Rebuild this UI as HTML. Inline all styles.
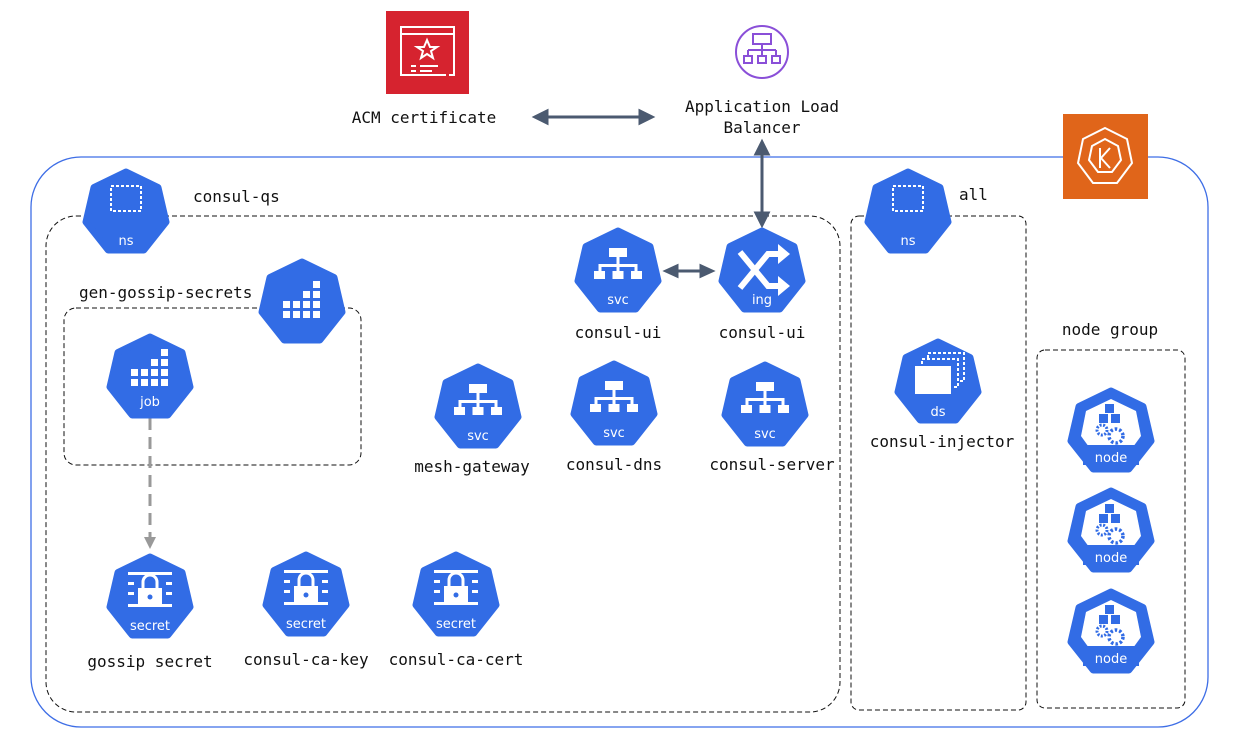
<!DOCTYPE html>
<html><head><meta charset="utf-8"><style>
html,body{margin:0;padding:0;background:#fff;}
svg text{font-family:"DejaVu Sans Mono","Liberation Mono",monospace;font-size:16px;fill:#111;}
.il{font-family:"DejaVu Sans","Liberation Sans",sans-serif;font-size:13px;fill:#fff;text-anchor:middle;}
</style></head><body>
<svg width="1243" height="750" viewBox="0 0 1243 750" xmlns="http://www.w3.org/2000/svg">
<defs>
<symbol id="hep" overflow="visible"><polygon points="0,-41 32,-25.5 40,9 17.8,37 -17.8,37 -40,9 -32,-25.5" fill="#326ce5" stroke="#326ce5" stroke-width="7" stroke-linejoin="round"/></symbol>
<symbol id="svcg" overflow="visible" fill="#fff">
<rect x="-9" y="-24" width="18" height="9"/><rect x="-1.5" y="-15" width="3" height="8"/><rect x="-18" y="-8" width="36" height="3"/>
<rect x="-19.5" y="-8" width="3" height="7"/><rect x="-1.5" y="-8" width="3" height="7"/><rect x="16.5" y="-8" width="3" height="7"/>
<rect x="-24" y="-1" width="11" height="8"/><rect x="-5.5" y="-1" width="11" height="8"/><rect x="13" y="-1" width="11" height="8"/></symbol>
<symbol id="jobg" overflow="visible" fill="#fff">
<rect x="8" y="-26" width="7" height="7"/>
<rect x="-2" y="-16" width="7" height="7"/><rect x="8" y="-16" width="7" height="7"/>
<rect x="-12" y="-6" width="7" height="7"/><rect x="-2" y="-6" width="7" height="7"/><rect x="8" y="-6" width="7" height="7"/><rect x="-22" y="-6" width="7" height="7"/>
<rect x="-22" y="4" width="7" height="7"/><rect x="-12" y="4" width="7" height="7"/><rect x="-2" y="4" width="7" height="7"/><rect x="8" y="4" width="7" height="7"/></symbol>
<symbol id="secg" overflow="visible" fill="#fff">
<rect x="-22" y="-26" width="44" height="3"/><rect x="-22" y="6" width="44" height="3"/>
<rect x="-22" y="-16" width="6" height="3"/><rect x="16" y="-16" width="6" height="3"/><rect x="-22" y="-6" width="6" height="3"/><rect x="16" y="-6" width="6" height="3"/>
<path d="M-7,-10 v-6 a7,7 0 0 1 14,0 v6" fill="none" stroke="#fff" stroke-width="3"/>
<rect x="-12" y="-10" width="24" height="18"/><circle cx="0" cy="-1" r="2.5" fill="#326ce5"/></symbol>
<symbol id="nodeg" overflow="visible">
<polygon points="0,-33 25,-21 30,4 14,26 -14,26 -30,4 -25,-21" fill="#fff"/>
<rect x="-6" y="-28" width="9" height="9" fill="#326ce5"/><rect x="-12" y="-18" width="9" height="9" fill="#326ce5"/><rect x="0" y="-18" width="9" height="9" fill="#326ce5"/>
<circle cx="-9" cy="-2" r="5" fill="none" stroke="#326ce5" stroke-width="3" stroke-dasharray="2 1.5"/>
<circle cx="5" cy="4" r="7" fill="none" stroke="#326ce5" stroke-width="3.5" stroke-dasharray="2.5 2"/>
<rect x="-28" y="13" width="56" height="20" fill="#326ce5"/></symbol>
<symbol id="nsg" overflow="visible"><rect x="-15" y="-27" width="30" height="25" fill="none" stroke="#fff" stroke-width="2" stroke-dasharray="3 2"/></symbol>
</defs>

<rect x="31" y="157" width="1177" height="570" rx="50" fill="none" stroke="#3e6ee6" stroke-width="1.3"/>
<rect x="46" y="216" width="794" height="496" rx="30" fill="none" stroke="#111" stroke-dasharray="5 3"/>
<rect x="64" y="308" width="297" height="157" rx="12" fill="none" stroke="#111" stroke-dasharray="5 3"/>
<rect x="851" y="216" width="175" height="494" rx="8" fill="none" stroke="#111" stroke-dasharray="5 3"/>
<rect x="1037" y="350" width="148" height="358" rx="8" fill="none" stroke="#111" stroke-dasharray="5 3"/>

<rect x="386" y="11" width="83" height="83" fill="#d6232f"/>
<g fill="none" stroke="#fff" stroke-width="2">
<path d="M449,75 h5 V27 h-53 v48 h45"/><path d="M401,34 h53"/>
<polygon points="427,40 430,47 437,47 431,51 433,58 427,54 421,58 423,51 417,47 424,47"/>
<path d="M411,66 h5 M420,66 h18 M411,71 h5 M420,71 h12"/></g>
<circle cx="762" cy="52" r="26" fill="none" stroke="#8a4fd8" stroke-width="2"/>
<g fill="none" stroke="#8a4fd8" stroke-width="2"><rect x="753" y="34" width="18" height="10"/><path d="M762,44 v6 M748,50 h28 M748,50 v5 M762,50 v5 M776,50 v5"/>
<rect x="744" y="56" width="8" height="7"/><rect x="758" y="56" width="8" height="7"/><rect x="772" y="56" width="8" height="7"/></g>
<rect x="1063" y="114" width="85" height="85" fill="#e0651a"/>
<g fill="none" stroke="#fff" stroke-width="2"><polygon points="1105,128 1127,139 1132,163 1117,183 1093,183 1078,163 1083,139"/>
<polygon points="1105,139 1118,146 1121,160 1112,172 1098,172 1089,160 1092,146"/><path d="M1100,148 v20 M1110,148 l-9,10 l9,10"/></g>

<g stroke="#4b5a70" stroke-width="3" fill="#4b5a70">
<line x1="545" y1="117" x2="642" y2="117"/><polygon points="535,117 547,111 547,123"/><polygon points="652,117 640,111 640,123"/>
<line x1="762" y1="152" x2="762" y2="215"/><polygon points="762,142 756,154 768,154"/><polygon points="762,225 756,213 768,213"/>
<line x1="675" y1="271" x2="703" y2="271"/><polygon points="666,271 677,266 677,276"/><polygon points="712,271 701,266 701,276"/>
</g>
<line x1="150" y1="418" x2="150" y2="537" stroke="#999" stroke-width="3" stroke-dasharray="12 7"/>
<polygon points="150,549 144,537 156,537" fill="#999"/>

<use href="#hep" x="126" y="213"/><use href="#nsg" x="126" y="213"/><text class="il" x="126" y="245">ns</text>
<use href="#hep" x="908" y="213"/><use href="#nsg" x="908" y="213"/><text class="il" x="908" y="245">ns</text>
<use href="#hep" x="302" y="303"/><use href="#jobg" x="305" y="307"/>
<use href="#hep" x="150" y="378"/><use href="#jobg" x="153" y="375"/><text class="il" x="150" y="406">job</text>
<use href="#hep" x="618" y="272"/><use href="#svcg" x="618" y="272"/><text class="il" x="618" y="304">svc</text>
<use href="#hep" x="762" y="272"/>
<g fill="none" stroke="#fff" stroke-width="6"><path d="M740,252 L768,286 h12 M740,288 l28,-34 h12"/></g>
<g fill="#fff"><polygon points="778,244 790,254 778,264"/><polygon points="778,276 790,286 778,296"/></g>
<text class="il" x="762" y="304">ing</text>
<use href="#hep" x="478" y="408"/><use href="#svcg" x="478" y="408"/><text class="il" x="478" y="440">svc</text>
<use href="#hep" x="614" y="405"/><use href="#svcg" x="614" y="405"/><text class="il" x="614" y="437">svc</text>
<use href="#hep" x="765" y="406"/><use href="#svcg" x="765" y="406"/><text class="il" x="765" y="438">svc</text>
<use href="#hep" x="938" y="383"/>
<g fill="none" stroke="#fff" stroke-width="2"><path d="M928,358 v-5 h36 v28 h-5" stroke-dasharray="3 2"/><path d="M922,364 v-5 h36 v28 h-5" stroke-dasharray="3 2"/></g>
<rect x="915" y="366" width="36" height="28" fill="#fff"/><text class="il" x="938" y="416">ds</text>
<use href="#hep" x="1111" y="432"/><use href="#nodeg" x="1111" y="432"/><text class="il" x="1111" y="462">node</text>
<use href="#hep" x="1111" y="532"/><use href="#nodeg" x="1111" y="532"/><text class="il" x="1111" y="562">node</text>
<use href="#hep" x="1111" y="633"/><use href="#nodeg" x="1111" y="633"/><text class="il" x="1111" y="663">node</text>
<use href="#hep" x="150" y="598"/><use href="#secg" x="150" y="598"/><text class="il" x="150" y="630">secret</text>
<use href="#hep" x="306" y="596"/><use href="#secg" x="306" y="596"/><text class="il" x="306" y="628">secret</text>
<use href="#hep" x="456" y="596"/><use href="#secg" x="456" y="596"/><text class="il" x="456" y="628">secret</text>

<g text-anchor="middle">
<text x="424" y="123">ACM certificate</text>
<text x="762" y="112">Application Load</text>
<text x="762" y="133">Balancer</text>
<text x="618" y="338">consul-ui</text>
<text x="762" y="338">consul-ui</text>
<text x="472" y="472">mesh-gateway</text>
<text x="614" y="470">consul-dns</text>
<text x="772" y="470">consul-server</text>
<text x="942" y="447">consul-injector</text>
<text x="1110" y="335">node group</text>
<text x="150" y="667">gossip secret</text>
<text x="306" y="665">consul-ca-key</text>
<text x="456" y="665">consul-ca-cert</text>
</g>
<text x="193" y="202">consul-qs</text>
<text x="79" y="298">gen-gossip-secrets</text>
<text x="959" y="200">all</text>
</svg>
</body></html>
